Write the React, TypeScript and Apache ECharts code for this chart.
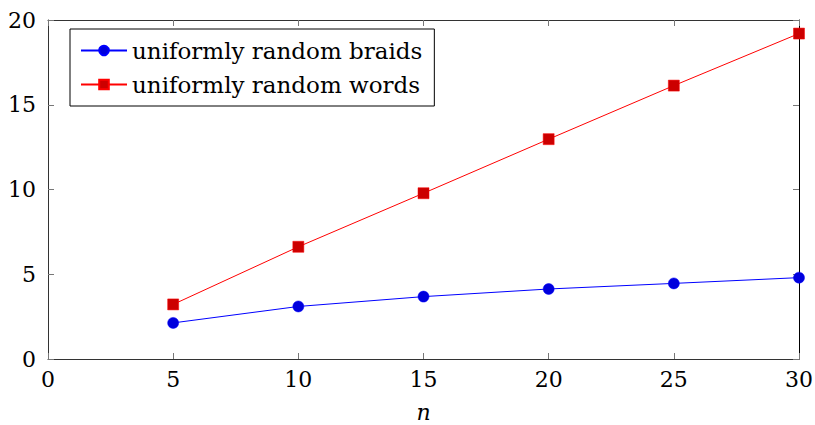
import React, { useEffect, useRef } from "react";
import * as echarts from "echarts";

const nValues = [5, 10, 15, 20, 25, 30];
const braids = [2.13, 3.1, 3.68, 4.13, 4.46, 4.8];
const words = [3.22, 6.62, 9.78, 12.97, 16.13, 19.2];
const seriesNames = ["uniformly random braids", "uniformly random words"];
const xTicks = { min: 0, max: 30, interval: 5 };
const yTicks = { min: 0, max: 20, interval: 5 };

const FONT = "'DejaVu Serif', serif";

export default function App() {
  const ref = useRef<HTMLDivElement>(null);
  useEffect(() => {
    if (!ref.current) return;
    const chart = echarts.init(ref.current, null, { renderer: "svg" });
    const axisLine = { show: true, onZero: false, lineStyle: { color: "#333", width: 1 } };
    const axisTick = { show: true, inside: true, length: 6, lineStyle: { color: "#777", width: 1 } };
    chart.setOption({
      animation: false,
      backgroundColor: "#fff",
      grid: {
        left: 48,
        right: 16,
        top: 20,
        bottom: 66,
        containLabel: false,
        outerBoundsMode: "none",
      },
      legend: {
        orient: "vertical",
        left: 70,
        top: 29,
        data: seriesNames,
        backgroundColor: "#fff",
        borderColor: "#000",
        borderWidth: 1,
        borderRadius: 0,
        padding: [10, 12, 10, 10],
        itemWidth: 46,
        itemHeight: 12,
        itemGap: 11,
        textStyle: { fontFamily: FONT, fontSize: 23, color: "#000", fontWeight: 300 },
      },
      xAxis: [
        {
          type: "value",
          ...xTicks,
          position: "bottom",
          axisLine,
          axisTick,
          splitLine: { show: false },
          axisLabel: { fontFamily: FONT, fontSize: 22, color: "#000", margin: 9 },
          name: "n",
          nameLocation: "middle",
          nameGap: 42,
          nameTextStyle: { fontFamily: FONT, fontSize: 22, fontStyle: "italic", color: "#000" },
        },
        {
          type: "value",
          ...xTicks,
          position: "top",
          axisLine,
          axisTick,
          splitLine: { show: false },
          axisLabel: { show: false },
        },
      ],
      yAxis: [
        {
          type: "value",
          ...yTicks,
          position: "left",
          axisLine,
          axisTick,
          splitLine: { show: false },
          axisLabel: { fontFamily: FONT, fontSize: 22, color: "#000", margin: 12 },
        },
        {
          type: "value",
          ...yTicks,
          position: "right",
          axisLine: { ...axisLine, lineStyle: { color: "#000", width: 1 } },
          axisTick,
          splitLine: { show: false },
          axisLabel: { show: false },
        },
      ],
      series: [
        {
          name: seriesNames[0],
          type: "line",
          data: nValues.map((n, i) => [n, braids[i]]),
          symbol: "circle",
          symbolSize: 11,
          lineStyle: { color: "#0000ff", width: 1 },
          itemStyle: { color: "#0000dd", borderColor: "#0000ff", borderWidth: 0.5 },
          emphasis: { disabled: true },
        },
        {
          name: seriesNames[1],
          type: "line",
          data: nValues.map((n, i) => [n, words[i]]),
          symbol: "rect",
          symbolSize: 11,
          lineStyle: { color: "#ff0000", width: 1 },
          itemStyle: { color: "#cc0000", borderColor: "#ff0000", borderWidth: 0.5 },
          emphasis: { disabled: true },
        },
      ],
    });
    return () => chart.dispose();
  }, []);
  return (
    <div
      ref={ref}
      style={{ position: "absolute", left: 0, top: 0, width: 815, height: 425 }}
    />
  );
}
